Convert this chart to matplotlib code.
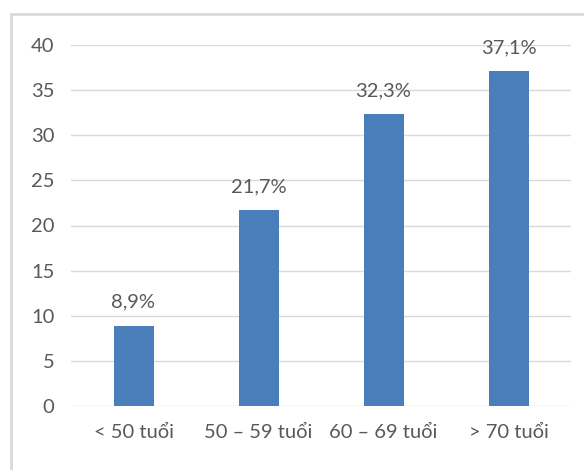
import matplotlib
matplotlib.use("Agg")
import matplotlib.pyplot as plt
from matplotlib.patches import Rectangle

categories = ["< 50 tuổi", "50 – 59 tuổi", "60 – 69 tuổi", "> 70 tuổi"]
values = [8.9, 21.7, 32.3, 37.1]
value_labels = ["8,9%", "21,7%", "32,3%", "37,1%"]
yticks = [0, 5, 10, 15, 20, 25, 30, 35, 40]

plt.rcParams['font.family'] = ['Lato', 'DejaVu Sans']
text_color = "#595959"
fs = 14.5

fig = plt.figure(figsize=(5.84, 4.70), dpi=100)
ax = fig.add_axes([71/584, 1-406/470, 500/584, (406-45)/470])

x = list(range(len(categories)))
ax.bar(x, values, width=0.32, color="#4a7ebb", zorder=3)
for xi, v, lab in zip(x, values, value_labels):
    ax.annotate(lab, (xi, v), xytext=(0, 11), textcoords="offset points",
                ha="center", va="bottom", fontsize=fs, color=text_color)

ax.set_xlim(-0.5, len(categories) - 0.5)
ax.set_ylim(0, 40)
ax.set_yticks(yticks)
ax.set_xticks(x)
ax.set_xticklabels(categories)
ax.tick_params(axis="both", length=0, labelsize=fs, colors=text_color)
ax.tick_params(axis="y", pad=12)
ax.tick_params(axis="x", pad=13)
ax.grid(axis="y", color="#d9d9d9", linewidth=1, zorder=0)
for s in ax.spines.values():
    s.set_visible(False)

fig.patches.append(Rectangle((11/584, -0.05), 1.0, 1.05 - 14/470, transform=fig.transFigure,
                             fill=False, edgecolor="#d9d9d9", linewidth=2))

fig.savefig("out.png", dpi=100)
